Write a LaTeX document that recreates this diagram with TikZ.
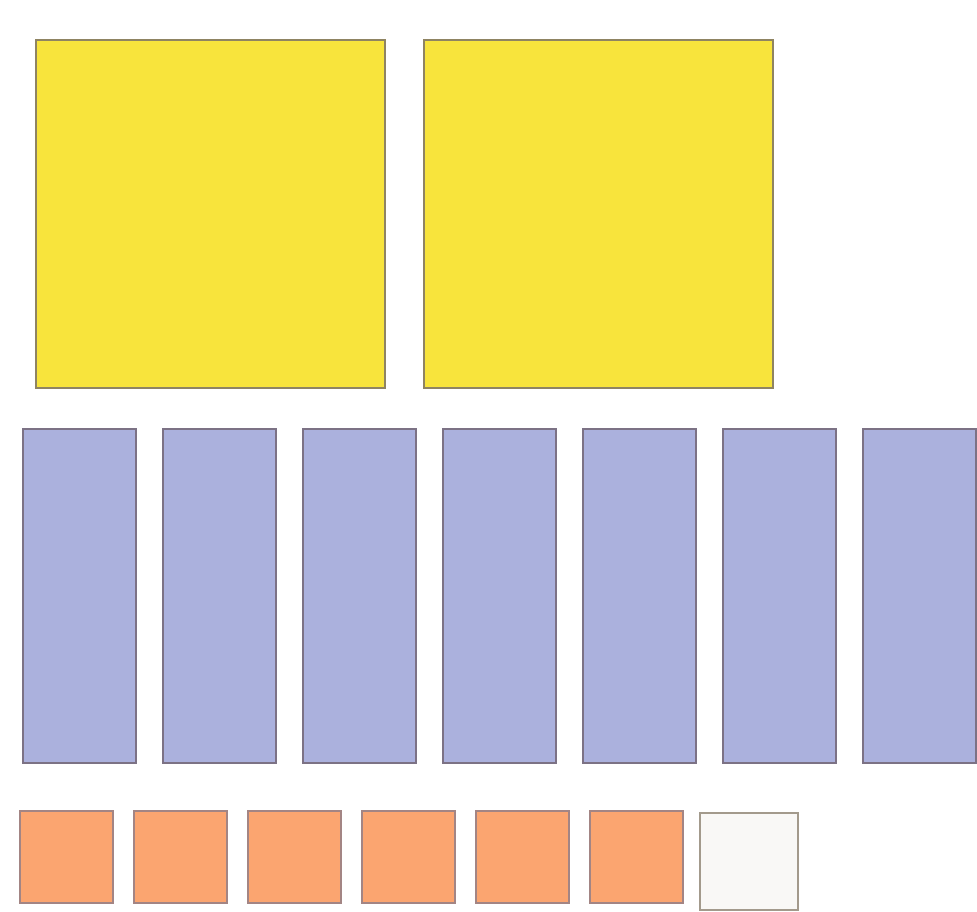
\documentclass[tikz,border=0pt]{standalone}
\usepackage{xcolor}
\usepackage{tikz}
\usetikzlibrary{positioning}
\definecolor{lemon}{HTML}{F8E43C}
\definecolor{lemonedge}{HTML}{8F8462}
\definecolor{lavender}{HTML}{ABB1DD}
\definecolor{lavenderedge}{HTML}{7C7285}
\definecolor{apricot}{HTML}{FBA570}
\definecolor{apricotedge}{HTML}{A38584}
\definecolor{paper}{HTML}{F9F8F6}
\definecolor{paperedge}{HTML}{A39A8C}
\tikzset{
  tile/.style={
    rectangle, draw=#1edge, fill=#1, line width=2pt,
    inner sep=0pt, outer sep=0pt
  },
  tile/.default=lemon,
  bigtile/.style={tile=lemon, minimum width=349pt, minimum height=348pt},
  bartile/.style={tile=lavender, minimum width=113pt, minimum height=334pt},
  smalltile/.style={tile=apricot, minimum width=93pt, minimum height=92pt},
  blanktile/.style={tile=paper, minimum width=98pt, minimum height=97pt},
}

\begin{document}
\begin{tikzpicture}[x=1pt, y=-1pt]
    \useasboundingbox (0,0) rectangle (977,911);
    % top row
    \node[bigtile] (big1) at (210,213.5) {};
    \node[bigtile, right=39pt of big1] (big2) {};
    % middle row
    \foreach \i in {0,...,6}
      \node[bartile] (bar\i) at (79.5+140*\i,595.5) {};
    % bottom row
    \foreach \i in {0,...,5}
      \node[smalltile] (small\i) at (66+114*\i,856.5) {};
    \node[blanktile, right=17pt of small5, yshift=-4.5pt] (blank) {};
\end{tikzpicture}
\end{document}
